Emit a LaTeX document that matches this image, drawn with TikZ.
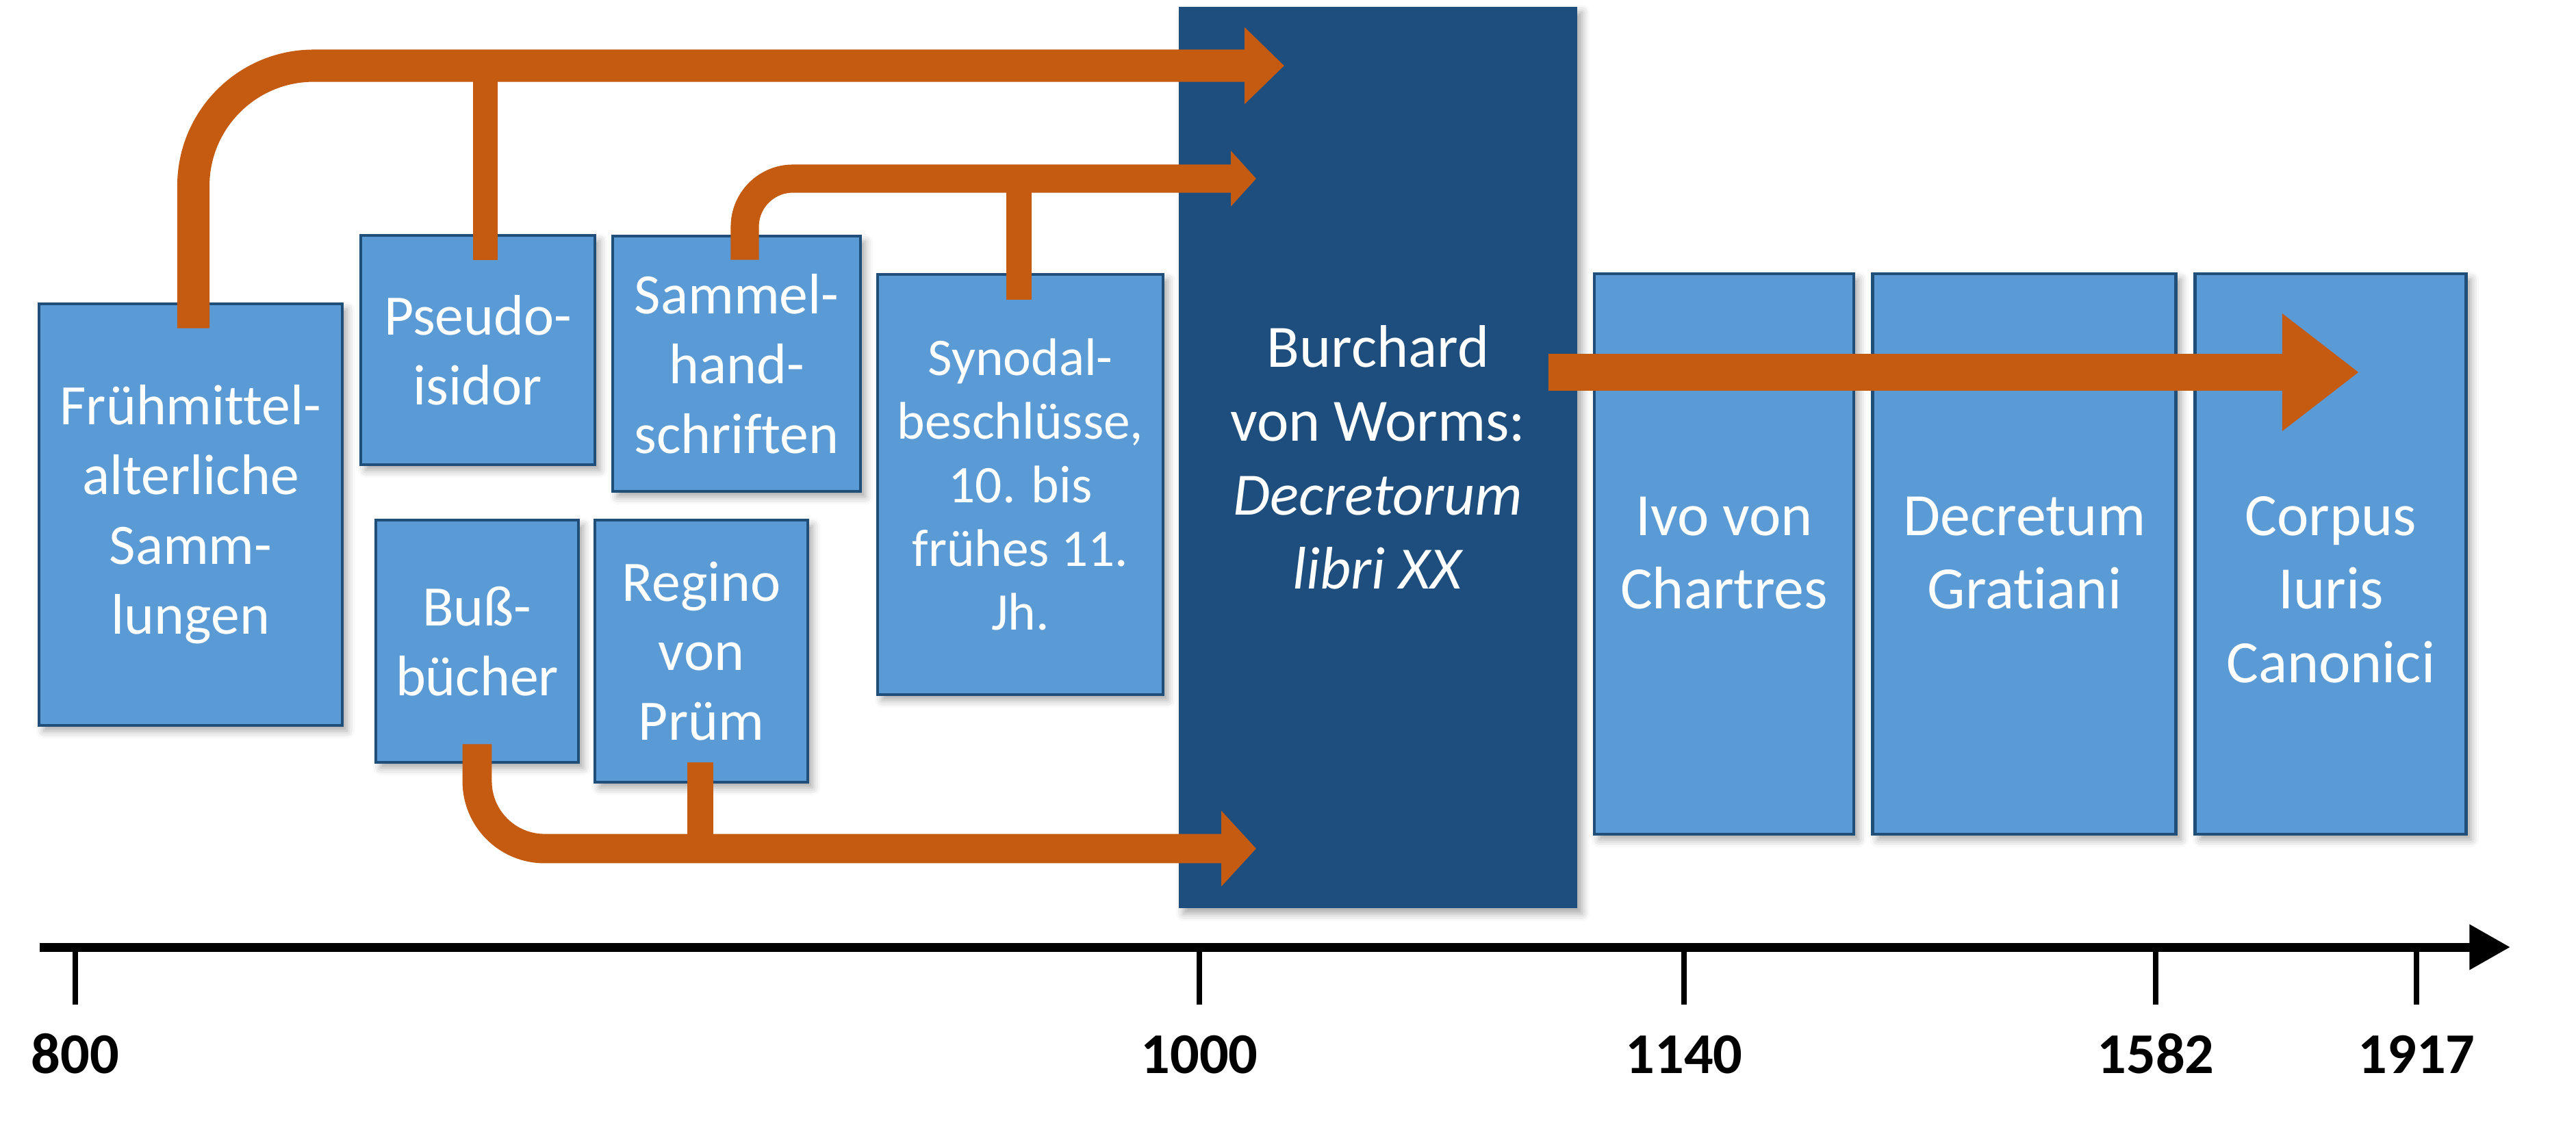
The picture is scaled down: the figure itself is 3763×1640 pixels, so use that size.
\documentclass[tikz,border=0pt]{standalone}
\usepackage{fontspec}
\setmainfont{Carlito}[Ligatures=NoCommon]
\usepackage{xcolor}
\usetikzlibrary{arrows.meta,positioning,calc,shadows.blur}

\definecolor{boxblue}{HTML}{5B9BD5}
\definecolor{rimblue}{HTML}{1F4E79}
\definecolor{deepblue}{HTML}{1E4E7D}
\definecolor{rust}{HTML}{C55A11}

\begin{document}
\begin{tikzpicture}[
  x=0.1mm, y=-0.1mm,
  txt/.style={text=white, align=center, inner sep=0pt, font=\fontsize{23.8}{29}\selectfont},
  shade/.style={blur shadow={shadow xshift=0.7mm, shadow yshift=-0.8mm, shadow blur radius=1.1mm, shadow opacity=35}},
  src/.style={txt, draw=rimblue, line width=1.4pt, fill=boxblue, shade},
  later/.style={src, font=\fontsize{25}{30.5}\selectfont},
  burch/.style={txt, fill=deepblue, shade, font=\fontsize{25}{30.7}\selectfont},
  flow/.style={draw=rust, line cap=butt},
  axis/.style={line width=3.7pt, -{Triangle[length=17pt,width=18pt]}},
  tick/.style={line width=2.4pt},
  year/.style={anchor=base, inner sep=0pt, font=\fontsize{24}{28}\selectfont\bfseries}
]
  \useasboundingbox (0,0) rectangle (3763,1640);

  % sources before 1000
  \node[src, minimum width=44.3mm, minimum height=61.6mm] (fruh) at (278.5,752)
    {Frühmittel-\\alterliche\\Samm-\\lungen};
  \node[src, minimum width=34.2mm, minimum height=33.5mm] (pseudo) at (698,511.5)
    {Pseudo-\\isidor};
  \node[src, minimum width=36.2mm, minimum height=37.3mm] (sammel) at (1076,531.5)
    {Sammel-\\hand-\\schriften};
  \node[src, minimum width=41.7mm, minimum height=61.4mm,
        font=\fontsize{22}{26.5}\selectfont] (synodal) at (1490.5,708)
    {Synodal-\\beschlüsse,\\10. bis\\frühes 11.\\Jh.};
  \node[src, minimum width=29.6mm, minimum height=35.4mm] (buss) at (697,937)
    {Buß-\\bücher};
  \node[src, minimum width=31.1mm, minimum height=38.3mm] (regino) at (1024.5,951.5)
    {Regino\\von\\Prüm};

  % Burchard
  \node[burch, minimum width=58.2mm, minimum height=131.7mm] (burchard) at (2013,668.5)
    {Burchard\\von Worms:\\\textit{Decretorum}\\\textit{libri XX}};

  % later collections
  \node[later, minimum width=37.9mm, minimum height=81.9mm] (ivo) at (2518.5,809.5) {};
  \node[later, minimum width=44.3mm, minimum height=81.9mm, right=2.3mm of ivo] (gratian) {};
  \node[later, minimum width=39.6mm, minimum height=81.9mm, right=2.3mm of gratian] (corpus) {};
  \node[txt, font=\fontsize{25}{30.5}\selectfont, anchor=north] (ivolbl)
    at (ivo.center |- 0,725) {Ivo von\\Chartres};
  \node[txt, font=\fontsize{25}{30.5}\selectfont, anchor=north] (gratianlbl)
    at (gratian.center |- 0,725) {Decretum\\Gratiani};
  \node[txt, font=\fontsize{25}{30.5}\selectfont, anchor=north] (corpuslbl)
    at (corpus.center |- 0,725) {Corpus\\Iuris\\Canonici};

  % arrow ends
  \coordinate (tipA) at (1876,96);
  \coordinate (tipB) at (1835,261);
  \coordinate (tipC) at (1835,1240);
  \coordinate (bstart) at (2262,544);
  \coordinate (tipD) at (3446,544);

  % upper arrow
  \coordinate (pA) at ($(pseudo.north)+(11,38)$);
  \draw[flow, line width=10.2pt] (pA) -- (pA |- tipA);
  \draw[flow, line width=13.4pt, rounded corners=50pt, -{Triangle[length=16.5pt,width=31pt]}]
    ($(fruh.north)+(4,38)$) |- (tipA);

  % second arrow
  \coordinate (sB) at ($(synodal.north)+(-2,39)$);
  \draw[flow, line width=10.8pt] (sB) -- (sB |- tipB);
  \draw[flow, line width=11.7pt, rounded corners=20pt, -{Triangle[length=10.5pt,width=22.5pt]}]
    ($(sammel.north)+(12,37)$) |- (tipB);

  % lower arrow
  \coordinate (rC) at ($(regino.south)+(-1.5,-31)$);
  \draw[flow, line width=10.8pt] (rC) -- (rC |- tipC);
  \draw[flow, line width=12.2pt, rounded corners=28pt, -{Triangle[length=14.5pt,width=30.7pt]}]
    ($(buss.south)+(0,-29)$) |- (tipC);

  % Burchard onwards
  \draw[flow, line width=15.4pt, -{Triangle[length=31.9pt,width=46.7pt]}] (bstart) -- (tipD);

  % time line
  \coordinate (axstart) at (58,1384);
  \coordinate (axend) at (3667,1384);
  \draw[axis] (axstart) -- (axend);
  \foreach \yr/\xx in {800/110, 1000/1752, 1140/2460, 1582/3149, 1917/3530} {
    \coordinate (t\yr) at (\xx,1388);
    \draw[tick] (t\yr) -- ++(0,80);
    \node[year] (y\yr) at (\xx,1568) {\yr};
  }
\end{tikzpicture}
\end{document}
